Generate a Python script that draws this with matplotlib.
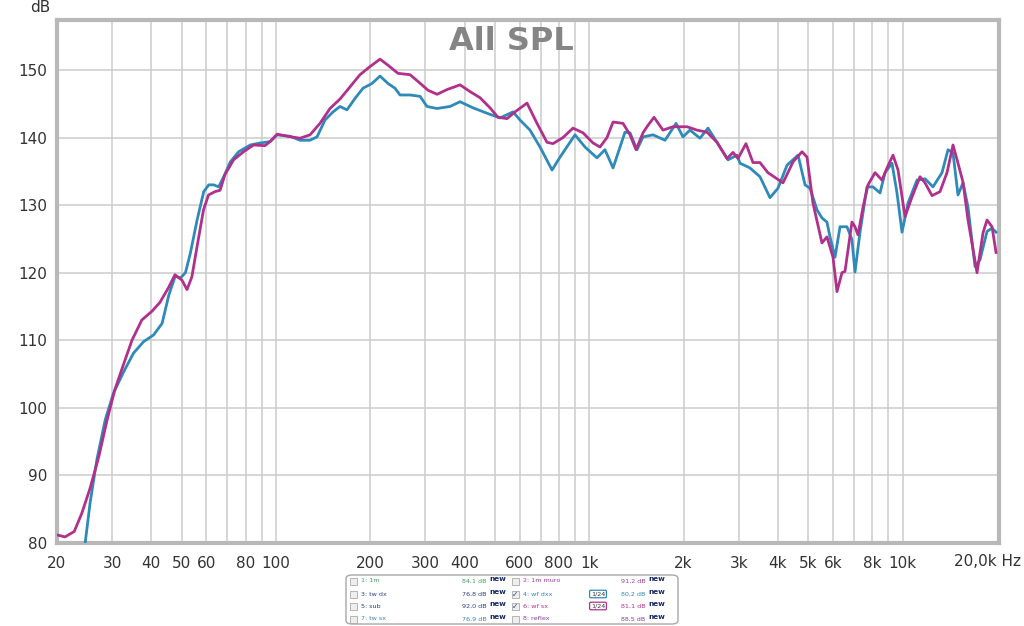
import numpy as np
import matplotlib
matplotlib.use("Agg")
import matplotlib.pyplot as plt
from matplotlib.patches import FancyBboxPatch, Rectangle

# ── Data ──────────────────────────────────────────────────────────────────────
# 6: wf sx  (magenta)
SX_FREQ = [20, 21.2, 22.7, 24.0, 25.5, 27.2, 28.9, 30.6, 32.7, 34.7, 37.3, 40.2,
           42.6, 45.4, 47.6, 50.1, 52.0, 53.9, 56.0, 58.7, 60.9, 63.9, 66.3, 68.7,
           73.2, 78.8, 84.8, 92.2, 95.7, 100.8, 108.5, 119.3, 128.4, 138.2, 148.7,
           160.1, 172.3, 185.4, 199.5, 214.8, 227.8, 245.2, 267.9, 284.0, 305.7,
           326.6, 351.5, 386.8, 416.3, 447.9, 482.0, 511.2, 546.2, 579.4, 632.8,
           681.0, 732.8, 765.8, 824.2, 887.2, 954.8, 1028, 1082, 1139, 1191, 1281,
           1349, 1410, 1484, 1528, 1609, 1719, 1850, 2051, 2207, 2375, 2556, 2751,
           2876, 2983, 3163, 3330, 3506, 3718, 4153, 4470, 4776, 4954, 5176, 5529,
           5735, 5996, 6174, 6406, 6549, 6893, 7048, 7205, 7477, 7756, 8166, 8596,
           8918, 9321, 9670, 10180, 10716, 11366, 11792, 12414, 13166, 13860,
           14486, 15026, 15590, 16174, 17282, 18062, 18598, 19294, 19872]
SX_DB = [81.2, 80.9, 81.7, 84.4, 88.1, 92.8, 98.2, 102.7, 106.6, 110.0, 113.0, 114.3,
         115.6, 117.8, 119.7, 118.9, 117.5, 119.4, 123.9, 129.3, 131.5, 132.0, 132.2,
         134.5, 136.7, 137.9, 138.9, 138.8, 139.4, 140.5, 140.2, 139.9, 140.4, 142.1,
         144.3, 145.7, 147.5, 149.3, 150.5, 151.6, 150.7, 149.5, 149.3, 148.3, 147.0,
         146.4, 147.1, 147.8, 146.8, 145.9, 144.4, 143.0, 142.8, 143.8, 145.1,
         142.1, 139.3, 139.1, 140.0, 141.4, 140.7, 139.2, 138.6, 140.0, 142.3, 142.1,
         140.4, 138.2, 140.7, 141.6, 143.0, 141.1, 141.6, 141.6, 141.1, 140.8, 139.3,
         136.9, 137.8, 136.9, 139.1, 136.3, 136.3, 134.8, 133.3, 136.4, 137.9, 137.1,
         130.3, 124.4, 125.3, 122.3, 117.2, 120.0, 120.2, 127.5, 126.8, 125.6, 129.7,
         133.0, 134.8, 133.7, 135.5, 137.4, 135.2, 128.3, 131.2, 134.2, 133.3, 131.4,
         132.0, 134.8, 138.9, 136.2, 133.4, 127.8, 120.0, 125.9, 127.8, 126.8, 123.0]

# 4: wf dxx  (blue)
DX_FREQ = [24.0, 24.6, 25.5, 26.8, 28.5, 30.3, 32.7, 35.1, 37.8, 40.7, 43.3, 45.5,
           47.7, 49.5, 51.4, 53.3, 56.0, 58.8, 61.0, 63.3, 65.6, 68.1, 71.5, 76.0,
           82.8, 89.1, 95.9, 100.8, 110.8, 119.3, 128.4, 135.2, 143.4, 152.1, 160.1,
           168.5, 178.8, 189.6, 202.5, 214.8, 227.8, 239.8, 248.8, 267.9, 288.3,
           303.4, 326.6, 359.3, 386.8, 425.5, 471.5, 518.8, 571, 601, 646.8, 696.2,
           760.5, 806.5, 900.4, 969, 1058, 1122, 1191, 1300, 1349, 1420, 1484, 1598,
           1745, 1892, 1991, 2096, 2256, 2393, 2556, 2772, 2961, 3027, 3258, 3506,
           3774, 4002, 4276, 4638, 4882, 5063, 5333, 5529, 5735, 5866, 6086, 6314,
           6646, 6893, 7048, 7313, 7698, 8046, 8471, 8788, 9251, 9598, 9957, 10406,
           11117, 11792, 12503, 13360, 13964, 14486, 15026, 15590, 16174, 17029,
           17662, 18598, 19294, 19872]
DX_DB = [76.0, 80.0, 85.9, 92.3, 98.2, 102.2, 105.4, 108.1, 109.8, 110.8, 112.5, 116.7,
         119.5, 119.2, 120.0, 122.9, 127.8, 132.0, 133.0, 133.0, 132.7, 134.2, 136.4,
         137.9, 138.9, 139.2, 139.4, 140.4, 140.2, 139.6, 139.6, 140.1, 142.6, 143.8,
         144.6, 144.1, 145.8, 147.3, 148.0, 149.1, 148.0, 147.3, 146.3, 146.3, 146.1,
         144.6, 144.3, 144.6, 145.3, 144.4, 143.6, 142.9, 143.8, 142.6, 141.1, 138.6,
         135.2, 137.1, 140.4, 138.6, 137.0, 138.2, 135.5, 140.8, 140.7, 138.2, 140.1,
         140.4, 139.6, 142.1, 140.1, 141.1, 139.9, 141.4, 139.3, 136.7, 137.4, 136.2,
         135.5, 134.2, 131.1, 132.5, 135.9, 137.4, 133.0, 132.5, 129.3, 128.1, 127.5,
         125.3, 122.3, 126.8, 126.8, 124.9, 120.1, 126.0, 132.7, 132.7, 131.8, 134.8,
         136.2, 131.8, 126.0, 130.3, 133.7, 133.9, 132.7, 134.8, 138.2, 137.7, 131.5,
         133.3, 129.7, 120.9, 121.9, 126.1, 126.6, 126.0]

GRID_FREQS = [30, 40, 50, 60, 70, 80, 90, 100, 200, 300, 400, 500, 600, 700, 800,
              900, 1000, 2000, 3000, 4000, 5000, 6000, 7000, 8000, 9000, 10000]
XTICKS = [20, 30, 40, 50, 60, 80, 100, 200, 300, 400, 600, 800, 1000, 2000, 3000,
          4000, 5000, 6000, 8000, 10000]
XTICK_LABELS = ["20", "30", "40", "50", "60", "80", "100", "200", "300", "400", "600",
                "800", "1k", "2k", "3k", "4k", "5k", "6k", "8k", "10k"]
YTICKS = [80, 90, 100, 110, 120, 130, 140, 150]

LEGEND_ROWS = [
    # (label, value, colour, checked)  left column , right column
    [("1: 1m", "84,1 dB", "#3f9f60", False), ("2: 1m muro", "91,2 dB", "#a03c9a", False)],
    [("3: tw dx", "76,8 dB", "#2d3f7f", False), ("4: wf dxx", "80,2 dB", "#2e8ab8", True)],
    [("5: sub", "92,0 dB", "#2d3f7f", False), ("6: wf sx", "81,1 dB", "#b0308c", True)],
    [("7: tw sx", "76,9 dB", "#3a86b0", False), ("8: reflex", "88,5 dB", "#8a3c9a", False)],
]

BLUE = "#2e8ab8"
MAGENTA = "#b0308c"
W, H = 1024, 626

# ── Figure ────────────────────────────────────────────────────────────────────
fig = plt.figure(figsize=(W / 100, H / 100), dpi=100)
fig.patch.set_facecolor("white")

left, right, top, bottom = 57, 999, 20, 543
ax = fig.add_axes([left / W, 1 - bottom / H, (right - left) / W, (bottom - top) / H])
ax.set_xscale("log")
ax.set_xlim(20, 20 * 10 ** ((right - left) / 313.3))
ax.set_ylim(80, 150 + (70 - top) / 6.76)

for f in GRID_FREQS:
    ax.axvline(f, color="#cccccc", lw=1.1, zorder=0)
for y in YTICKS[1:]:
    ax.axhline(y, color="#cccccc", lw=1.1, zorder=0)

ax.plot(DX_FREQ, DX_DB, color=BLUE, lw=2.0, zorder=3, solid_joinstyle="round")
ax.plot(SX_FREQ, SX_DB, color=MAGENTA, lw=2.0, zorder=4, solid_joinstyle="round")

ax.set_xticks(XTICKS)
ax.set_xticklabels(XTICK_LABELS)
ax.xaxis.set_minor_locator(matplotlib.ticker.NullLocator())
ax.set_yticks(YTICKS)
ax.tick_params(axis="both", length=0, labelsize=11, colors="#333333")
ax.tick_params(axis="x", pad=9)
ax.tick_params(axis="y", pad=7)
for s in ax.spines.values():
    s.set_color("#b8b8b8")
    s.set_linewidth(3)

fig.text(1021 / W, 1 - 562 / H, "20,0k Hz", ha="right", va="center",
         fontsize=11, color="#333333")
fig.text(40 / W, 1 - 8 / H, "dB", ha="center", va="center", fontsize=11,
         color="#333333")
fig.text(511 / W, 1 - 42 / H, "All SPL", ha="center", va="center", fontsize=23,
         fontweight="bold", color="#858585")

# ── Legend panel ──────────────────────────────────────────────────────────────
box = FancyBboxPatch((346 / W, 1 - 624 / H), 332 / W, 49 / H,
                     boxstyle="round,pad=0,rounding_size=0.006",
                     transform=fig.transFigure, facecolor="white",
                     edgecolor="#a8a8a8", lw=1.0)
fig.add_artist(box)

row_y = [581, 594, 606, 619]
col_x = [(350, 361, 462), (512, 523, 621)]
for r, row in enumerate(LEGEND_ROWS):
    yy = 1 - row_y[r] / H
    for c, (lab, val, col, checked) in enumerate(row):
        cb, tx, vx = col_x[c]
        fig.add_artist(Rectangle((cb / W, yy - 3.5 / H), 7 / W, 7 / H,
                                 transform=fig.transFigure, facecolor="#eeeeee",
                                 edgecolor="#aaaaaa", lw=0.6))
        if checked:
            fig.text((cb + 3.5) / W, yy, "✓", ha="center", va="center",
                     fontsize=5.5, color="#334488")
        fig.text(tx / W, yy, lab, ha="left", va="center", fontsize=4.6, color=col)
        fig.text(vx / W, yy, val, ha="left", va="center", fontsize=4.6, color=col)
        fig.text((vx + 27) / W, yy + 2 / H, "new", ha="left", va="center",
                 fontsize=5.2, fontweight="bold", color="#1a2a6a")
        if checked:
            icol = BLUE if r == 1 else MAGENTA
            fig.text(598 / W, yy, "1/24", ha="center", va="center", fontsize=4.6,
                     color="#333333",
                     bbox=dict(boxstyle="round,pad=0.2", fc="white", ec=icol, lw=0.9))

fig.savefig("out.png", dpi=100)
